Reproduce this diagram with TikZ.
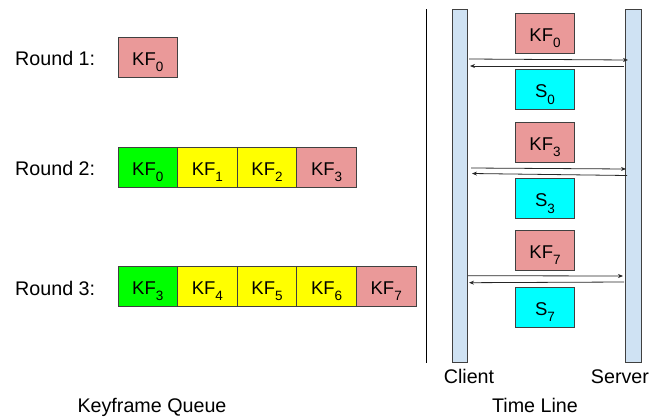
\documentclass[tikz,border=0pt]{standalone}
\usepackage{fontspec}
\setmainfont{Liberation Sans}
\usetikzlibrary{positioning,arrows.meta}

\definecolor{kfpink}{RGB}{234,153,153}
\definecolor{kfgreen}{RGB}{0,255,0}
\definecolor{kfyellow}{RGB}{255,255,0}
\definecolor{scyan}{RGB}{0,255,255}
\definecolor{barblue}{RGB}{207,226,243}

\newcommand{\low}[1]{\raisebox{-6.5pt}{\fontsize{13.5}{13.5}\selectfont #1}}

\tikzset{
	frame/.style={draw=black!75, line width=0.9pt, minimum width=59.6pt, minimum height=40pt,
		inner sep=0pt, outer sep=0pt, text height=16pt, text depth=0pt,
		font=\fontsize{18.5}{22}\selectfont},
	kfnew/.style={frame, fill=kfpink},
	kfold/.style={frame, fill=kfgreen},
	kfmid/.style={frame, fill=kfyellow},
	state/.style={frame, fill=scyan},
	bar/.style={draw=black!75, line width=0.8pt, fill=barblue, minimum height=353pt,
		inner sep=0pt, outer sep=0pt},
	lbl/.style={font=\fontsize{19.7}{23}\selectfont, inner sep=0pt, anchor=base},
	msg/.style={draw=black!85, line width=0.8pt, -{Stealth[length=5pt,width=4pt]}}
}

\begin{document}
\begin{tikzpicture}[x=1pt,y=-1pt]
	\useasboundingbox (0,0) rectangle (664,418);

	% keyframe queue
	\draw (15,65.5) node [lbl, anchor=base west] (r1) {Round 1:};
	\draw (147.8,57) node [kfnew] (q10) {KF\low{0}};

	\draw (15,175) node [lbl, anchor=base west] (r2) {Round 2:};
	\draw (147.8,167) node [kfold] (q20) {KF\low{0}};
	\node [kfmid, right=0pt of q20] (q21) {KF\low{1}};
	\node [kfmid, right=0pt of q21] (q22) {KF\low{2}};
	\node [kfnew, right=0pt of q22] (q23) {KF\low{3}};

	\draw (15,295) node [lbl, anchor=base west] (r3) {Round 3:};
	\draw (147.8,286) node [kfold] (q33) {KF\low{3}};
	\node [kfmid, right=0pt of q33] (q34) {KF\low{4}};
	\node [kfmid, right=0pt of q34] (q35) {KF\low{5}};
	\node [kfmid, right=0pt of q35] (q36) {KF\low{6}};
	\node [kfnew, right=0pt of q36] (q37) {KF\low{7}};

	\draw (152,412) node [lbl] (queue) {Keyframe Queue};

	% separator
	\draw [line width=0.9pt] (426,9) -- (426,363);

	% time line
	\draw (459.5,185.5) node [bar, minimum width=15pt] (client) {};
	\draw (633,185.5) node [bar, minimum width=16pt] (server) {};
	\draw (469,383) node [lbl] (clientlbl) {Client};
	\draw (620,383) node [lbl] (serverlbl) {Server};
	\draw (535,412) node [lbl] (timeline) {Time Line};

	\draw (545,33) node [kfnew] (t0) {KF\low{0}};
	\draw (545,89.5) node [state] (s0) {S\low{0}};
	\draw (545,142) node [kfnew] (t3) {KF\low{3}};
	\draw (545,198.5) node [state] (s3) {S\low{3}};
	\draw (545,250) node [kfnew] (t7) {KF\low{7}};
	\draw (545,307) node [state] (s7) {S\low{7}};

	\draw [msg] ([xshift=2pt]client.east |- 0,59) -- ([xshift=3pt]server.west |- 0,60);
	\draw [msg] ([xshift=-1pt]server.west |- 0,66) -- ([xshift=3pt]client.east |- 0,66);
	\draw [msg] ([xshift=4pt]client.east |- 0,168) -- ([xshift=1pt]server.west |- 0,169);
	\draw [msg] ([xshift=2pt]server.west |- 0,175.5) -- ([xshift=5pt]client.east |- 0,173.5);
	\draw [msg] ([xshift=1pt]client.east |- 0,275.7) -- ([xshift=-2pt]server.west |- 0,276);
	\draw [msg] ([xshift=-1pt]server.west |- 0,282) -- ([xshift=2pt]client.east |- 0,282.7);
\end{tikzpicture}
\end{document}
